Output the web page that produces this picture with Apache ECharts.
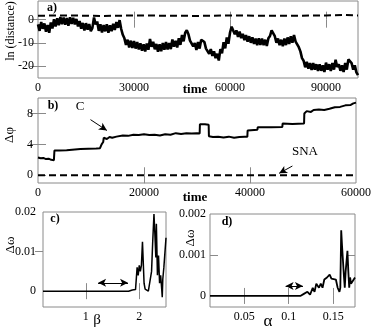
<!DOCTYPE html>
<html>
<head>
<meta charset="utf-8">
<script src="https://cdn.jsdelivr.net/npm/echarts@6/dist/echarts.min.js"></script>
<style>
  html, body { margin: 0; padding: 0; background: #fff; }
  #chart { width: 374px; height: 329px; }
</style>
</head>
<body>
<div id="chart"></div>
<script>
// --- panel a: ln(distance) vs time (C solid, SNA dashed) ---
const aStep = 500;
const aSolid = [
  -2.0, -4.8, -1.0, -3.9, -1.6, -5.2, -2.3, -5.6, -1.2, -3.8,
  0.2, -2.9, 0.6, -2.4, 1.1, -1.9, 0.9, -2.2, 0.7, -2.6,
  1.0, -1.8, 0.8, -2.0, 0.3, -2.9, -0.6, -3.9, -1.4, -4.6,
  -1.5, -4.3, -1.9, -4.9, -3.5, 0.9, -2.0, -0.8, -4.8, -2.0,
  -5.5, -2.3, -5.0, -2.0, -5.6, -2.4, -4.9, -1.8, -4.4, -1.0,
  -3.5, -0.2, -4.0, -6.5, -8.0, -10.8, -8.6, -11.9, -9.0, -12.1,
  -9.2, -12.4, -9.6, -12.8, -10.1, -13.3, -10.6, -13.6, -10.2, -12.9,
  -8.3, -11.6, -9.5, -12.7, -10.4, -13.7, -10.6, -13.5, -10.0, -12.9,
  -9.6, -12.8, -10.0, -12.6, -8.5, -11.6, -9.1, -11.9, -8.0, -10.8,
  -6.6, -9.3, -5.6, -4.5, -6.2, -9.0, -8.6, -11.4, -10.0, -13.0,
  -9.6, -12.4, -8.6, -8.0, -9.6, -12.4, -11.6, -14.6, -12.6, -15.5,
  -13.6, -16.5, -14.6, -17.5, -12.6, -14.4, -9.6, -12.3, -7.6, -10.3,
  -5.6, -3.0, -3.6, -6.3, -4.6, -7.4, -5.1, -7.9, -6.1, -8.8,
  -6.6, -9.4, -7.1, -9.9, -7.6, -10.4, -8.1, -10.9, -8.0, -10.8,
  -8.1, -10.9, -8.6, -11.3, -8.0, -7.0, -4.6, -3.8, -7.1, -9.9,
  -8.1, -10.9, -8.6, -11.4, -8.1, -10.9, -7.6, -10.4, -7.1, -9.9,
  -6.6, -9.4, -8.6, -11.8, -13.6, -16.5, -17.6, -20.4, -18.1, -21.0,
  -18.6, -21.5, -18.6, -21.4, -19.1, -22.0, -19.1, -21.9, -19.6, -22.4,
  -18.4, -21.4, -19.1, -22.0, -18.6, -21.4, -17.2, -20.3, -19.1, -21.9,
  -19.6, -22.4, -18.6, -21.4, -17.0, -16.6, -18.6, -21.4, -19.6, -22.6,
  -23.8
];
const aDashT = [0, 10000, 20000, 30000, 40000, 50000, 60000, 70000, 80000, 90000, 95000, 100000];
const aDashV = [1.7, 1.8, 1.6, 1.8, 1.7, 1.6, 1.8, 1.7, 1.7, 1.8, 2.0, 1.8];

// --- panel b: delta phi vs time ---
const bT = [0, 500, 1000, 1500, 2000, 2500, 3000, 3100, 4000, 5400,
  5450, 8000, 11000, 11700, 12000, 12300, 12400, 13000, 13500, 14000,
  14800, 16000, 17000, 18000, 19000, 20000, 21000, 22000, 23000, 24000,
  25000, 26000, 27000, 28000, 29000, 30000, 30500, 30550, 31500, 32200,
  32250, 33000, 34000, 35000, 36000, 37000, 38000, 39000, 39500, 39550,
  41400, 41450, 44000, 46100, 46150, 48000, 50200, 50250, 50700, 51500,
  52000, 53000, 54000, 55000, 56000, 57000, 58000, 59000, 59500, 60000];
const bV = [2.3, 2.2, 2.25, 2.1, 2.15, 2.0, 1.95, 3.2, 3.2, 3.25,
  3.4, 3.4, 3.45, 3.5, 4.0, 4.3, 4.85, 4.7, 4.95, 4.85,
  5.0, 5.15, 5.1, 5.25, 5.2, 5.3, 5.2, 5.25, 5.15, 5.3,
  5.25, 5.45, 5.35, 5.45, 5.4, 5.45, 5.4, 6.6, 6.6, 6.55,
  5.05, 4.95, 5.0, 4.9, 5.0, 4.85, 4.95, 5.0, 5.0, 5.8,
  5.9, 6.2, 6.2, 6.25, 6.7, 6.65, 6.7, 8.0, 8.3, 8.2,
  8.45, 8.5, 8.45, 8.6, 8.8, 8.85, 9.05, 9.1, 9.3, 9.4];
const bDashT = [0, 60000];
const bDashV = [0, 0];
const arrowC = [[9900, 7.2], [13000, 5.8]];
const arrowSNA = [[48000, 1.2], [45500, 0.25]];

// --- panel c: delta omega vs beta ---
const cBeta = [0.2, 1.8, 1.83, 1.87, 1.9, 1.93, 1.95, 1.96, 1.98, 2.0,
  2.02, 2.04, 2.06, 2.09, 2.11, 2.14, 2.17, 2.2, 2.23, 2.25,
  2.275, 2.29, 2.31, 2.32, 2.34, 2.36, 2.38, 2.4, 2.42, 2.43,
  2.44, 2.46, 2.48, 2.5];
const cDw = [0, 0, 0.0005, 0.0003, 0.0006, 0.0004, 0.0008, 0.006, 0.004, 0.0065,
  0.005, 0.0065, 0.0125, 0.002, 0.0005, 0, 0, 0.0005, 0.005, 0.012,
  0.0195, 0.015, 0.0085, 0.017, 0.004, 0.009, 0.002, 0.004, 0.0005, -0.0015,
  0.003, 0.006, 0.0065, 0.0135];
const cArrow = [[1.23, 0.0021], [1.79, 0.0021]];

// --- panel d: delta omega vs alpha ---
const dAlpha = [0.0115, 0.113, 0.117, 0.121, 0.124, 0.127, 0.129, 0.131, 0.134, 0.136,
  0.138, 0.14, 0.143, 0.146, 0.148, 0.15, 0.153, 0.155, 0.157, 0.158,
  0.159, 0.16, 0.162, 0.163, 0.164, 0.166, 0.167, 0.168, 0.169, 0.17, 0.1745];
const dDw = [0, 0, 0.00005, 0.0001, 0.00003, 0.0002, 0.0001, 0.0003, 0.0002, 0.0003,
  0.0002, 0.0004, 0.00045, 0.00052, 0.00042, 0.00042, 0.0004, 0.0002, 0.0001, 0.0002,
  0.0016, 0.0012, 0.0005, 0.0002, 0.0006, 0.0011, 0.0006, 0.0002, 0.00045, 0.0003, 0.00045];
const dArrow = [[0.0965, 0.00024], [0.116, 0.00024]];

const FONT = '"Liberation Serif", "DejaVu Serif", serif';
const TICK = '#8a8a8a';

function pairs(xs, ys) { return xs.map((x, i) => [x, ys[i]]); }

// bottom/top (or left/right) axis pair sharing one scale
function axisPair(dim, gi, min, max, labels, ticksA, ticksB, opts = {}) {
  const base = {
    type: 'value', gridIndex: gi, min: min, max: max,
    axisLine: { show: false }, splitLine: { show: false }
  };
  const mainPos = dim === 'x' ? 'bottom' : 'left';
  const otherPos = dim === 'x' ? 'top' : 'right';
  return [
    Object.assign({}, base, {
      position: mainPos,
      axisTick: { show: ticksA.length > 0, inside: !opts.outside, length: 8, customValues: ticksA, lineStyle: { color: TICK } },
      axisLabel: { customValues: labels, formatter: v => String(v), margin: opts.margin || 4, color: '#000', fontFamily: FONT, fontSize: 12 }
    }),
    Object.assign({}, base, {
      position: otherPos,
      axisTick: { show: ticksB.length > 0, inside: true, length: 8, customValues: ticksB, lineStyle: { color: TICK } },
      axisLabel: { show: false }
    })
  ];
}

const grids = [
  { left: 38, top: 1, width: 320, height: 77 },
  { left: 38, top: 98, width: 319, height: 85 },
  { left: 43, top: 212, width: 123, height: 95 },
  { left: 210, top: 214, width: 145, height: 93 }
].map(g => Object.assign(g, { show: true, borderColor: TICK, borderWidth: 1, backgroundColor: 'transparent' }));

const xAxis = [
  ...axisPair('x', 0, 0, 100000, [0, 30000, 60000, 90000], [30000, 60000, 90000], [30000, 60000, 90000], { margin: 4 }),
  ...axisPair('x', 1, 0, 60000, [0, 20000, 40000, 60000], [20000, 40000], [20000, 40000], { margin: 4 }),
  ...axisPair('x', 2, 0.2, 2.5, [1, 2], [1, 2], [1, 2], { margin: 4 }),
  ...axisPair('x', 3, 0.0115, 0.1745, [0.05, 0.1, 0.15], [0.05, 0.1, 0.15], [0.05, 0.1, 0.15], { margin: 4 })
];
const yAxis = [
  ...axisPair('y', 0, -25, 8, [-20, -10, 0], [-20, -10, 0], [-20, -10, 0], { margin: 4 }),
  ...axisPair('y', 1, -1, 10, [0, 4, 8], [0, 4, 8], [4, 8], { margin: 5 }),
  ...axisPair('y', 2, -0.004, 0.02, [0, 0.01, 0.02], [0.01], [], { margin: 7, outside: true }),
  ...axisPair('y', 3, -0.00027, 0.002, [0, 0.001, 0.002], [0.001], [0.001], { margin: 4 })
];

function line(idx, data, width, dashed, extra) {
  return Object.assign({
    type: 'line', xAxisIndex: idx * 2, yAxisIndex: idx * 2, data: data,
    showSymbol: false, symbol: 'none', animation: false, silent: true,
    lineStyle: { color: '#000', width: width, type: dashed ? [7, 4] : 'solid' }
  }, extra || {});
}

function arrowLine(pts, both) {
  return {
    silent: true, animation: false,
    symbol: both ? ['arrow', 'arrow'] : ['none', 'arrow'],
    symbolSize: [6, 8],
    label: { show: false },
    lineStyle: { color: '#000', width: 1, type: 'solid' },
    data: [[{ coord: pts[0] }, { coord: pts[1] }]]
  };
}

const series = [
  line(0, aSolid.map((v, i) => [i * aStep, v]), 2.6, false),
  line(0, pairs(aDashT, aDashV), 2, true),
  line(1, pairs(bT, bV), 2, false, { markLine: arrowLine(arrowC, false) }),
  line(1, pairs(bDashT, bDashV), 2, true, { markLine: arrowLine(arrowSNA, false) }),
  line(2, pairs(cBeta, cDw), 1.5, false, { markLine: arrowLine(cArrow, true) }),
  line(3, pairs(dAlpha, dDw), 1.8, false, { markLine: arrowLine(dArrow, true) })
];

function txt(text, x, y, size, opts = {}) {
  return {
    type: 'text', x: x, y: y, rotation: opts.rot || 0, silent: true,
    style: {
      text: text, fill: '#000',
      font: (opts.bold ? 'bold ' : '') + size + 'px ' + FONT,
      textAlign: opts.align || 'center', textVerticalAlign: 'middle'
    }
  };
}

const graphic = [
  txt('ln (distance)', 11, 31, 12, { rot: Math.PI / 2 }),
  txt('time', 195, 90, 13, { bold: true }),
  txt('a)', 52, 8, 12, { bold: true }),
  txt('Δφ', 10, 135, 13, { rot: Math.PI / 2 }),
  txt('time', 195, 198, 13, { bold: true }),
  txt('b)', 53, 106, 12, { bold: true }),
  txt('C', 80, 107, 13),
  txt('SNA', 305, 152, 13),
  txt('Δω', 11, 245, 13, { rot: Math.PI / 2 }),
  txt('c)', 55, 219, 12, { bold: true }),
  txt('β', 97, 320, 15),
  txt('Δω', 191, 238, 13, { rot: Math.PI / 2 }),
  txt('d)', 227, 222, 12, { bold: true }),
  txt('α', 268, 322, 17)
];

const chart = echarts.init(document.getElementById('chart'), null, { renderer: 'canvas' });
chart.setOption({
  animation: false,
  backgroundColor: '#fff',
  grid: grids,
  xAxis: xAxis,
  yAxis: yAxis,
  series: series,
  graphic: graphic
});
</script>
</body>
</html>
